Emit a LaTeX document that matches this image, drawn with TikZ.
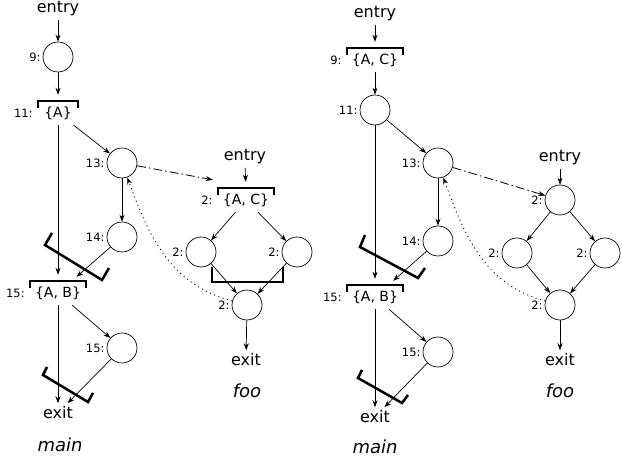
\documentclass[tikz,border=0pt]{standalone}
\usepackage{fontspec}
\setmainfont{DejaVu Sans}
\usepackage{tikz}
\usetikzlibrary{arrows.meta,positioning,calc}

\begin{document}
\begin{tikzpicture}[
    x=1pt, y=1pt,
    every node/.style={font=\fontsize{16}{18}\selectfont},
    block/.style={circle, draw, line width=0.7pt, minimum size=30pt, inner sep=0pt},
    setnode/.style={font=\fontsize{14}{16}\selectfont, inner xsep=5pt, minimum width=40pt, minimum height=24pt},
    num/.style={font=\fontsize{11.5}{13}\selectfont, inner sep=1pt},
    title/.style={font=\fontsize{18}{20}\selectfont\itshape},
    edge/.style={-{Stealth[length=7pt,width=5pt]}, line width=0.7pt},
    toset/.style={edge, shorten >=6pt},
    call/.style={edge, dash pattern=on 9pt off 3pt on 1.5pt off 3pt, line width=0.8pt},
    ret/.style={edge, dash pattern=on 1pt off 3.5pt, line width=0.9pt},
    cut/.style={line width=2.5pt, line join=miter}
]
\useasboundingbox (0,0) rectangle (622,463);

\node (mentry) at (58,454) {entry};
\node[block, label={[num, label distance=1pt]left:{9:}}] (m9) at (58,406) {};
\node[setnode, label={[num, label distance=4pt]left:{11:}}] (m11) at (58,350) {\{A\}};
\node[block, label={[num, label distance=1pt]left:{13:}}] (m13) at (122,300) {};
\node[block, label={[num, label distance=1pt]left:{14:}}] (m14) at (122,226) {};
\node[setnode, label={[num, label distance=4pt]left:{15:}}] (m15) at (58,170) {\{A, B\}};
\node[block, label={[num, label distance=1pt]left:{15:}}] (m15c) at (122,115) {};
\node (mexit) at (58,50) {exit};
\node[title] (mname) at (60,18) {main};

\node (fentry) at (245,306) {entry};
\node[setnode, label={[num, label distance=4pt]left:{2:}}] (f1) at (246,263) {\{A, C\}};
\node[block, label={[num, label distance=1pt]left:{2:}}] (f2) at (201,211) {};
\node[block, label={[num, label distance=1pt]left:{2:}}] (f3) at (297,211) {};
\node[block, label={[num, label distance=1pt]left:{2:}}] (f4) at (247,158) {};
\node (fexit) at (246,103) {exit};
\node[title] (fname) at (247,72) {foo};

\node (nentry) at (375,449) {entry};
\node[setnode, label={[num, label distance=4pt]left:{9:}}] (n9) at (375,403) {\{A, C\}};
\node[block, label={[num, label distance=1pt]left:{11:}}] (n11) at (375,353) {};
\node[block, label={[num, label distance=1pt]left:{13:}}] (n13) at (438,300) {};
\node[block, label={[num, label distance=1pt]left:{14:}}] (n14) at (438,222) {};
\node[setnode, label={[num, label distance=4pt]left:{15:}}] (n15) at (375,166) {\{A, B\}};
\node[block, label={[num, label distance=1pt]left:{15:}}] (n15c) at (438,111) {};
\node (nexit) at (375,46) {exit};
\node[title] (nname) at (375,16) {main};

\node (gentry) at (560,305) {entry};
\node[block, label={[num, label distance=1pt]left:{2:}}] (g1) at (560,263) {};
\node[block, label={[num, label distance=1pt]left:{2:}}] (g2) at (517,210) {};
\node[block, label={[num, label distance=1pt]left:{2:}}] (g3) at (605,210) {};
\node[block, label={[num, label distance=1pt]left:{2:}}] (g4) at (560,158) {};
\node (gexit) at (560,103) {exit};
\node[title] (gname) at (560,72) {foo};

\foreach \s in {m11,m15,f1,n9,n15}
  \draw[cut] ([yshift=-7pt]\s.north west) -- (\s.north west) -- (\s.north east) -- ([yshift=-7pt]\s.north east);

\draw[edge] (mentry) -- (m9);
\draw[toset] (m9) -- (m11);
\draw[edge] (m11) -- (m13);
\draw[toset] (m11) -- (m15);
\draw[edge] (m13) -- (m14);
\draw[toset] (m14) -- (m15);
\draw[edge] (m15) -- (m15c);
\draw[edge] (m15) -- (mexit);
\draw[edge] (m15c) -- (mexit);

\draw[toset] (fentry) -- (f1);
\draw[edge] (f1) -- (f2);
\draw[edge] (f1) -- (f3);
\draw[edge] (f2) -- (f4);
\draw[edge] (f3) -- (f4);
\draw[edge] (f4) -- (fexit);

\draw[toset] (nentry) -- (n9);
\draw[edge] (n9) -- (n11);
\draw[edge] (n11) -- (n13);
\draw[toset] (n11) -- (n15);
\draw[edge] (n13) -- (n14);
\draw[toset] (n14) -- (n15);
\draw[edge] (n15) -- (n15c);
\draw[edge] (n15) -- (nexit);
\draw[edge] (n15c) -- (nexit);

\draw[edge] (gentry) -- (g1);
\draw[edge] (g1) -- (g2);
\draw[edge] (g1) -- (g3);
\draw[edge] (g2) -- (g4);
\draw[edge] (g3) -- (g4);
\draw[edge] (g4) -- (gexit);

\draw[call] (m13) -- ([shift={(-5pt,8pt)}]f1.north west);
\draw[ret] (f4) to[out=165, in=-70] (m13);
\draw[call] (n13) -- (g1);
\draw[ret] (g4) to[out=165, in=-70] (n13);

\draw[cut] (52,230) -- (45,218) -- (102,183) -- (109,195);
\draw[cut] (47,96) -- (43,88) -- (88,61) -- (93,70);
\draw[cut] (212,196) -- (212,181) -- (283,181) -- (283,196);
\draw[cut] (365,228) -- (360,216) -- (418,185) -- (425,195);
\draw[cut] (362,93) -- (358,85) -- (402,60) -- (408,68);
\end{tikzpicture}
\end{document}
